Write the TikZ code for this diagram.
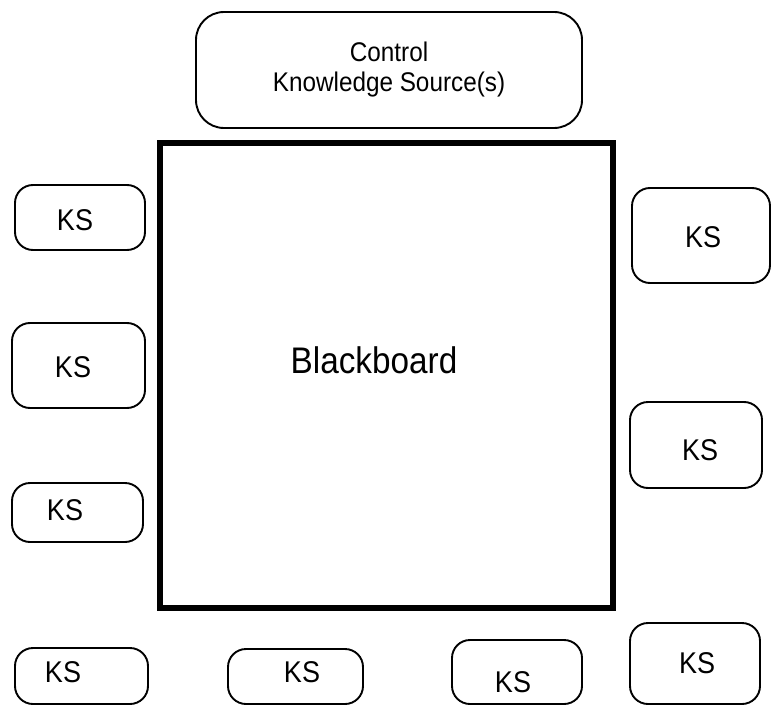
\documentclass[tikz,border=0pt]{standalone}
\usepackage{fontspec}
\newfontfamily\hv[FakeStretch=0.9]{Liberation Sans}
\begin{document}
\begin{tikzpicture}[x=1pt,y=-1pt,
  ksbox/.style={draw, line width=1.9pt, rounded corners=18pt, inner sep=0pt},
  kslab/.style={inner sep=0pt, font=\hv\fontsize{30}{32}\selectfont},
  kst/.style 2 args={label={[kslab,xshift=#1pt,yshift=#2pt]center:KS}},
  ctrlbox/.style={draw, line width=1.9pt, rounded corners=28pt, inner sep=0pt,
    align=center, font=\hv\fontsize{27}{30}\selectfont},
  bbbox/.style={draw, line width=6pt, inner sep=0pt},
  bbtext/.style={inner sep=0pt, font=\hv\fontsize{37}{40}\selectfont}]
\useasboundingbox (0,0) rectangle (773,706);
% Control knowledge source
\node[ctrlbox, minimum width=386pt, minimum height=116pt] (ctrl) at (389,70)
  {Control\\Knowledge Source(s)};
% Blackboard
\node[bbbox, minimum width=453pt, minimum height=465pt] (bb) at (386.5,375.5) {};
\node[bbtext] (bblabel) at (374,360) {Blackboard};
% Left knowledge sources
\node[ksbox, minimum width=130pt, minimum height=65pt, kst={-5}{-2.5}] (l1) at (80,217.5) {};
\node[ksbox, minimum width=133pt, minimum height=85pt, kst={-5.5}{-1.5}] (l2) at (78.5,365.5) {};
\node[ksbox, minimum width=131pt, minimum height=59pt, kst={-12.5}{2.5}] (l3) at (77.5,512.5) {};
% Right knowledge sources
\node[ksbox, minimum width=138pt, minimum height=95pt, kst={2}{-1.5}] (r1) at (701,235.5) {};
\node[ksbox, minimum width=132pt, minimum height=86pt, kst={4}{-5}] (r2) at (696,445) {};
% Bottom knowledge sources
\node[ksbox, minimum width=133pt, minimum height=56pt, kst={-18.5}{4}] (b1) at (81.5,676) {};
\node[ksbox, minimum width=135pt, minimum height=55pt, kst={6.5}{4.5}] (b2) at (295.5,676.5) {};
\node[ksbox, minimum width=130pt, minimum height=64pt, kst={-4}{-10}] (b3) at (517,672) {};
\node[ksbox, minimum width=130pt, minimum height=81pt, kst={2}{0.5}] (b4) at (695,663.5) {};
\end{tikzpicture}
\end{document}
